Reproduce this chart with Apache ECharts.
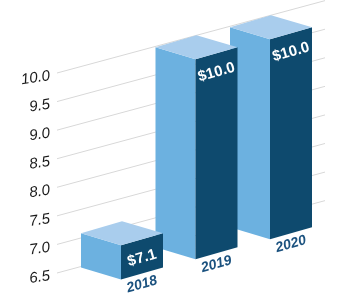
<!DOCTYPE html>
<html>
<head>
<meta charset="utf-8">
<script src="https://cdn.jsdelivr.net/npm/echarts@6/dist/echarts.min.js"></script>
<style>html,body{margin:0;padding:0;background:#fff}#c{width:348px;height:300px}</style>
</head>
<body>
<div id="c"></div>
<script>
const categories = ['2018', '2019', '2020'];
const values = [7.1, 10.0, 10.0];
const valueLabels = ['$7.1', '$10.0', '$10.0'];
const yTicks = [6.5, 7.0, 7.5, 8.0, 8.5, 9.0, 9.5, 10.0];
const yTickLabels = ['6.5', '7.0', '7.5', '8.0', '8.5', '9.0', '9.5', '10.0'];

const BASE = 6.5;
const WALL_L = 57, WALL_R = 325;   // wall extent (layout)
const SLOPE = 0.27;                // wall slant (layout)
const HW = 41, DY = 12;            // box half width / top diamond rise
const ROT = 16 * Math.PI / 180;
const C_TOP = '#a9cded', C_LEFT = '#6cb1e0', C_RIGHT = '#0e4a6e';
const FONT = '"Liberation Sans", Arial, sans-serif';

const chart = echarts.init(document.getElementById('c'), null, {renderer: 'canvas'});

function wallY(api, v, px) {
  return api.coord([0, v])[1] - SLOPE * (px - WALL_L);
}

chart.setOption({
  animation: false,
  grid: {left: 84.75, right: 39.75, top: 73, bottom: 27},
  xAxis: {
    type: 'category', data: categories, boundaryGap: true,
    axisLine: {show: false}, axisTick: {show: false}, axisLabel: {show: false}, splitLine: {show: false}
  },
  yAxis: {
    type: 'value', min: 6.5, max: 10, interval: 0.5,
    axisLine: {show: false}, axisTick: {show: false}, splitLine: {show: false},
    axisLabel: {show: false}
  },
  series: [
    {
      type: 'custom', z: 1, silent: true,
      data: yTicks.map((v, k) => [0, v, k]),
      renderItem: function (params, api) {
        const v = api.value(1), k = api.value(2);
        return {
          type: 'group',
          children: [
            {
              type: 'line',
              shape: {x1: WALL_L, y1: wallY(api, v, WALL_L), x2: WALL_R, y2: wallY(api, v, WALL_R)},
              style: {stroke: '#d8d8d8', lineWidth: 1}
            },
            {
              type: 'text', x: WALL_L - 7, y: wallY(api, v, WALL_L) + 3, rotation: 8 * Math.PI / 180,
              style: {
                text: yTickLabels[k], x: 0, y: 0, align: 'right', verticalAlign: 'middle',
                fill: '#1a1a1a', font: 'italic 15px ' + FONT
              }
            }
          ]
        };
      }
    },
    {
      type: 'custom', z: 2, silent: true,
      data: values.map((v, i) => [i, v]),
      renderItem: function (params, api) {
        const i = api.value(0), v = api.value(1);
        const xb = api.coord([i, v])[0];
        const yb = wallY(api, v, xb);
        const h = wallY(api, BASE, xb) - yb;
        const B = [xb, yb], L = [xb - HW, yb + DY], R = [xb + HW, yb + DY], F = [xb - 1, yb + 2 * DY];
        const dn = p => [p[0], p[1] + h];
        const z2 = 10 - i;
        return {
          type: 'group',
          children: [
            {type: 'polygon', z2: z2, shape: {points: [L, F, dn(F), dn(L)]}, style: {fill: C_LEFT}},
            {type: 'polygon', z2: z2, shape: {points: [F, R, dn(R), dn(F)]}, style: {fill: C_RIGHT}},
            {type: 'polygon', z2: z2, shape: {points: [B, R, F, L]}, style: {fill: C_TOP}},
            {
              type: 'text', z2: z2 + 1, x: xb + 20, y: yb + 37, rotation: ROT,
              style: {
                text: valueLabels[i], x: 0, y: 0, align: 'center', verticalAlign: 'middle',
                fill: '#ffffff', font: 'bold 15px ' + FONT
              }
            },
            {
              type: 'text', z2: z2 + 1, x: xb + 20, y: yb + 18 + h + 11, rotation: ROT,
              style: {
                text: categories[i], x: 0, y: 0, align: 'center', verticalAlign: 'middle',
                fill: '#1b527f', font: 'italic bold 14px ' + FONT
              }
            }
          ]
        };
      }
    }
  ]
});
</script>
</body>
</html>
